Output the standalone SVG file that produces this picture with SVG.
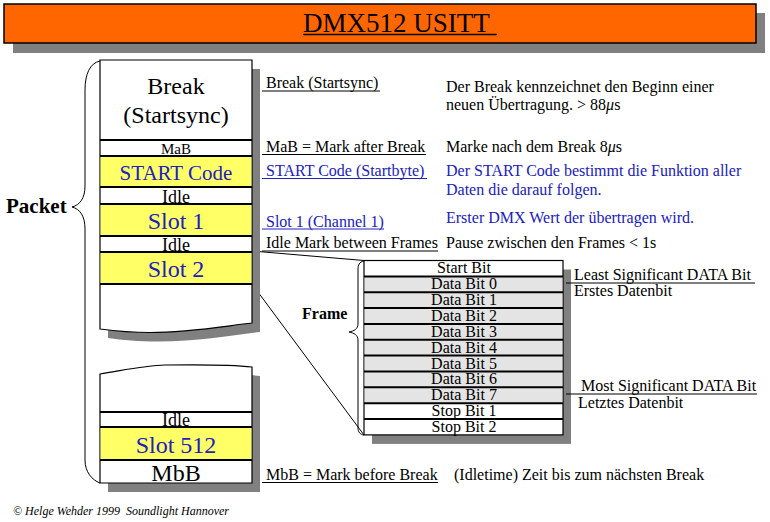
<svg xmlns="http://www.w3.org/2000/svg" width="770" height="522" viewBox="0 0 770 522">
<style>
.sh{fill:#808080}
.box{fill:#fff;stroke:#000;stroke-width:1.2}
.sep{stroke:#000;stroke-width:2}
.yel{fill:#ffff66}
.gry{fill:#e4e4e4}
.t{font-family:"Liberation Serif","Times New Roman",serif;fill:#000}
.blue{fill:#2020c0}
.c{text-anchor:middle}
.ul{stroke:#000;stroke-width:1}
.ulb{stroke:#2020c0;stroke-width:1}
.br{fill:none;stroke:#000;stroke-width:1}
.s16{font-size:16px}
.big{font-size:24px}
</style>
<rect width="770" height="522" fill="#fff"/>

<g id="title">
  <rect class="sh" x="13" y="13" width="752" height="40"/>
  <rect x="4" y="4" width="752" height="39" fill="#ff6600" stroke="#000" stroke-width="1.5"/>
  <text class="t" x="303" y="32" font-size="27">DMX512 USITT</text>
  <line x1="303" y1="34.5" x2="497" y2="34.5" stroke="#000" stroke-width="1.5"/>
</g>

<g id="connectors">
  <line x1="252" y1="251" x2="364" y2="260.5" stroke="#000" stroke-width="1"/>
  <line x1="252" y1="284" x2="364" y2="435" stroke="#000" stroke-width="1"/>
</g>

<g id="packet-brace">
  <path class="br" d="M100,61 C90,63 85,74 85,90 L85,186 C85,198 80,205 72,207 C80,209 85,216 85,229 L85,460 C85,472 92,480 100,483"/>
  <text class="t" x="6" y="213" font-size="21" font-weight="bold">Packet</text>
</g>

<g id="packet-upper">
  <path class="sh" transform="translate(8,9)" d="M100,60 H252 V323 C225,326 190,332.5 150,332.5 C130,332.5 115,331 100,329 Z"/>
  <path class="box" d="M100,60 H252 V323 C225,326 190,332.5 150,332.5 C130,332.5 115,331 100,329 Z"/>
  <rect class="yel" x="100.6" y="156" width="150.8" height="31"/>
  <rect class="yel" x="100.6" y="204" width="150.8" height="32"/>
  <rect class="yel" x="100.6" y="252" width="150.8" height="32"/>
  <line class="sep" x1="100" y1="140" x2="252" y2="140"/>
  <line class="sep" x1="100" y1="156" x2="252" y2="156"/>
  <line class="sep" x1="100" y1="187" x2="252" y2="187"/>
  <line class="sep" x1="100" y1="204" x2="252" y2="204"/>
  <line class="sep" x1="100" y1="236" x2="252" y2="236"/>
  <line class="sep" x1="100" y1="252" x2="252" y2="252"/>
  <line class="sep" x1="100" y1="284" x2="252" y2="284"/>
  <text class="t c big" x="176" y="94">Break</text>
  <text class="t c big" x="176" y="123">(Startsync)</text>
  <text class="t c" x="176" y="154" font-size="15">MaB</text>
  <text class="t c blue" x="176" y="180" font-size="21">START Code</text>
  <text class="t c" x="176" y="202.5" font-size="18">Idle</text>
  <text class="t c blue big" x="176" y="229">Slot 1</text>
  <text class="t c" x="176" y="250.5" font-size="18">Idle</text>
  <text class="t c blue big" x="176" y="277">Slot 2</text>
</g>

<g id="packet-lower">
  <path class="sh" transform="translate(8,9)" d="M100,374 C125,370 145,365.5 165,365 C200,364.5 235,365 252,367 V483 H100 Z"/>
  <path class="box" d="M100,374 C125,370 145,365.5 165,365 C200,364.5 235,365 252,367 V483 H100 Z"/>
  <rect class="yel" x="100.6" y="427" width="150.8" height="33"/>
  <line class="sep" x1="100" y1="412" x2="252" y2="412"/>
  <line class="sep" x1="100" y1="427" x2="252" y2="427"/>
  <line class="sep" x1="100" y1="460" x2="252" y2="460"/>
  <text class="t c" x="176" y="425.5" font-size="18">Idle</text>
  <text class="t c blue big" x="176" y="453">Slot 512</text>
  <text class="t c big" x="176" y="481">MbB</text>
</g>

<g id="labels">
  <text class="t s16" x="266" y="88.3">Break (Startsync)</text>
  <line class="ul" x1="262" y1="91" x2="380" y2="91"/>
  <text class="t s16" x="446" y="91.5">Der Break kennzeichnet den Beginn einer</text>
  <text class="t s16" x="446" y="110">neuen Übertragung. &gt; 88<tspan font-style="italic">μ</tspan>s</text>

  <text class="t s16" x="266" y="152">MaB = Mark after Break</text>
  <line class="ul" x1="262" y1="154.5" x2="426" y2="154.5"/>
  <text class="t s16" x="446" y="152">Marke nach dem Break 8<tspan font-style="italic">μ</tspan>s</text>

  <text class="t s16 blue" x="266" y="176">START Code (Startbyte)</text>
  <line class="ulb" x1="262" y1="178.5" x2="427" y2="178.5"/>
  <text class="t s16 blue" x="446" y="176">Der START Code bestimmt die Funktion aller</text>
  <text class="t s16 blue" x="446" y="194.5">Daten die darauf folgen.</text>

  <text class="t s16 blue" x="266" y="226.7">Slot 1 (Channel 1)</text>
  <line class="ulb" x1="262" y1="229" x2="384" y2="229"/>
  <text class="t s16 blue" x="446" y="223">Erster DMX Wert der übertragen wird.</text>

  <text class="t s16" x="266" y="248.3">Idle Mark between Frames</text>
  <line class="ul" x1="262" y1="251" x2="438" y2="251"/>
  <text class="t s16" x="446" y="248">Pause zwischen den Frames &lt; 1s</text>

  <text class="t s16" x="266" y="480">MbB = Mark before Break</text>
  <line class="ul" x1="262" y1="482.5" x2="438" y2="482.5"/>
  <text class="t s16" x="454" y="480">(Idletime) Zeit bis zum nächsten Break</text>
</g>

<g id="frame-brace">
  <path class="br" d="M364,261 C359,262 358,265 358,270 L358,324 C358,329 354,331 349,332 C354,333 358,335 358,340 L358,428 C358,432 360,434.5 364,435"/>
  <text class="t" x="302" y="319" font-size="16" font-weight="bold">Frame</text>
</g>

<g id="frame">
  <rect class="sh" x="372" y="269.5" width="199" height="174.4"/>
  <rect class="box" x="364" y="260.5" width="199" height="174.4"/>
  <rect class="gry" x="364.6" y="276.4" width="197.8" height="126.8"/>
  <line class="sep" x1="364" y1="276.4" x2="563" y2="276.4"/>
  <line class="sep" x1="364" y1="292.2" x2="563" y2="292.2"/>
  <line class="sep" x1="364" y1="308.1" x2="563" y2="308.1"/>
  <line class="sep" x1="364" y1="323.9" x2="563" y2="323.9"/>
  <line class="sep" x1="364" y1="339.8" x2="563" y2="339.8"/>
  <line class="sep" x1="364" y1="355.6" x2="563" y2="355.6"/>
  <line class="sep" x1="364" y1="371.5" x2="563" y2="371.5"/>
  <line class="sep" x1="364" y1="387.3" x2="563" y2="387.3"/>
  <line class="sep" x1="364" y1="403.2" x2="563" y2="403.2"/>
  <line class="sep" x1="364" y1="419" x2="563" y2="419"/>
  <text class="t c s16" x="464" y="273.4">Start Bit</text>
  <text class="t c s16" x="464" y="289.2">Data Bit 0</text>
  <text class="t c s16" x="464" y="305.1">Data Bit 1</text>
  <text class="t c s16" x="464" y="320.9">Data Bit 2</text>
  <text class="t c s16" x="464" y="336.8">Data Bit 3</text>
  <text class="t c s16" x="464" y="352.6">Data Bit 4</text>
  <text class="t c s16" x="464" y="368.5">Data Bit 5</text>
  <text class="t c s16" x="464" y="384.3">Data Bit 6</text>
  <text class="t c s16" x="464" y="400.2">Data Bit 7</text>
  <text class="t c s16" x="464" y="416">Stop Bit 1</text>
  <text class="t c s16" x="464" y="431.9">Stop Bit 2</text>
</g>

<g id="frame-labels">
  <text class="t s16" x="574" y="280">Least Significant DATA Bit</text>
  <line class="ul" x1="566" y1="283" x2="755" y2="283"/>
  <text class="t s16" x="574" y="296">Erstes Datenbit</text>
  <text class="t s16" x="581" y="390.7">Most Significant DATA Bit</text>
  <line class="ul" x1="566" y1="394" x2="757" y2="394"/>
  <text class="t s16" x="578" y="408">Letztes Datenbit</text>
</g>

<g id="footer">
  <text class="t" x="13" y="515" font-size="12" font-style="italic">© Helge Wehder 1999&#160; Soundlight Hannover</text>
</g>
</svg>
